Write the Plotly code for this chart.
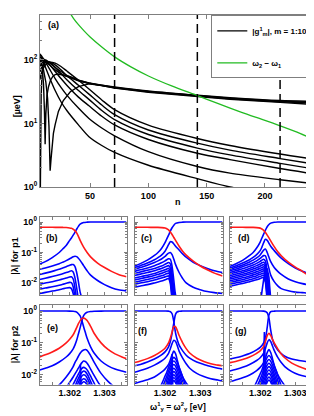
import plotly.graph_objects as go

# ---------------- panel (a) data ----------------
n_L = [7, 8, 10, 12, 15, 20, 25, 30, 40, 49, 60, 71, 100, 142, 170, 213, 241.5]
g_L1 = [50, 60, 75, 85, 92, 89, 79, 67, 48, 35, 23.5, 16.5, 9.4, 5.8, 4.5, 3.3, 2.75]
g_L2 = [65, 74, 86, 92, 93, 84, 70, 57, 40, 29, 19.5, 13.8, 7.9, 4.9, 3.8, 2.8, 2.3]
g_L3 = [80, 86, 94, 96, 92, 77, 61, 49, 33, 24, 16, 11.5, 6.7, 4.1, 3.2, 2.35, 1.93]
g_L4 = [95, 98, 100, 96, 86, 66, 51, 40, 26, 19, 13, 9.5, 5.6, 3.4, 2.7, 1.95, 1.61]
g_L5 = [110, 108, 100, 90, 73, 51, 37, 28, 17.5, 12, 8.5, 6.4, 3.6, 2.1, 1.65, 1.3, 1.13]
g_L6 = [120, 112, 92, 74, 54, 33, 22, 16, 9.5, 6.2, 4.5, 3.5, 2.2, 1.35, 1.0, 0.75, 0.62]
g_B1 = [125, 118, 105, 96, 84, 70, 61, 55, 47, 43, 40, 37.5, 32.5, 27.8, 25.5, 23, 22.3]

n_B2 = [7.3, 7.6, 8, 8.5, 9, 10, 12, 15, 20, 25, 30, 40, 49, 60, 71, 100, 142, 170, 213, 241.5]
g_B2 = [0.9, 12, 28, 48, 65, 88, 100, 92, 76, 65, 57, 48, 43.5, 40, 37, 32, 27.3, 25, 22.5, 21.5]

n_B3 = [7, 8, 9, 10, 10.8, 11.4, 12, 13, 14.3, 16, 18, 20, 23, 27, 33, 40, 49, 60, 71, 100, 142, 170, 213, 241.5]
g_B3 = [105, 95, 72, 42, 16, 4.7, 14, 28, 38, 48, 55, 59, 60, 58, 54, 48, 43, 39.5, 36.5, 31.5, 27, 24.5, 22, 21]

n_B4 = [7, 8, 10, 12, 13.5, 14.7, 15.7, 16.5, 17.1, 18.5, 20, 22.8, 27, 33, 40, 49, 60, 71, 100, 142, 170, 213, 241.5]
g_B4 = [100, 90, 70, 45, 25, 9, 1.8, 2.8, 4.2, 7, 9.6, 15.5, 23, 31.6, 38, 42, 39.5, 36, 31, 26.5, 24, 21.5, 20]

n_green = [33, 36, 40, 45, 50, 60, 71, 85, 100, 120, 142, 160, 180, 200, 213, 230, 241.5]
w_green = [540, 445, 360, 285, 230, 160, 112, 78, 56, 39, 27.5, 20.5, 15, 11.2, 9.2, 7.0, 5.6]

dashed_n = [71, 142, 213]
a_xticks = [50, 100, 150, 200]

# ---------------- p1 panels (b, c, d) ----------------
X_p1 = [1.30114, 1.3013, 1.3015, 1.3017, 1.3018, 1.3019, 1.3020, 1.30205, 1.3021, 1.30215,
        1.3022, 1.30225, 1.3023, 1.3024, 1.3025, 1.3026, 1.3028, 1.3030, 1.3032, 1.3034, 1.30363]

red_b = [0.67, 0.67, 0.67, 0.668, 0.665, 0.66, 0.64, 0.62, 0.58, 0.52, 0.44, 0.34, 0.25, 0.15, 0.1, 0.072, 0.045, 0.032, 0.024, 0.019, 0.016]
main_b = [0.042, 0.05, 0.068, 0.1, 0.13, 0.17, 0.25, 0.3, 0.37, 0.46, 0.58, 0.72, 0.85, 0.96, 0.99, 1, 1, 1, 1, 1, 1]
fins_b = [
    [0.028, 0.031, 0.036, 0.043, 0.048, 0.054, 0.062, 0.067, 0.072, 0.075, 0.073, 0.065, 0.055, 0.037, 0.025, 0.018, 0.012, 0.0088, 0.007, 0.006, 0.0055],
    [0.019, 0.021, 0.024, 0.028, 0.031, 0.034, 0.038, 0.04, 0.04, 0.035, 0.022, 0.011, 0.005, 0.002],
    [0.013, 0.0143, 0.0162, 0.0185, 0.02, 0.022, 0.024, 0.025, 0.023, 0.015, 0.007, 0.003, 0.002],
    [0.009, 0.0099, 0.011, 0.0125, 0.0134, 0.0145, 0.0157, 0.016, 0.0135, 0.007, 0.003, 0.002],
    [0.0062, 0.0068, 0.0075, 0.0084, 0.009, 0.0097, 0.0104, 0.0102, 0.0075, 0.0035, 0.002],
    [0.0045, 0.0049, 0.0054, 0.006, 0.0064, 0.0068, 0.007, 0.0065, 0.0045, 0.002],
]

red_c = [0.67, 0.67, 0.67, 0.668, 0.665, 0.655, 0.635, 0.6, 0.55, 0.47, 0.39, 0.31, 0.25, 0.16, 0.11, 0.082, 0.052, 0.036, 0.027, 0.021, 0.017]
main_c = [0.036, 0.043, 0.056, 0.08, 0.1, 0.135, 0.21, 0.28, 0.37, 0.5, 0.65, 0.79, 0.9, 0.97, 0.99, 1, 1, 1, 1, 1, 1]
fins_c = [
    [0.032, 0.037, 0.045, 0.058, 0.068, 0.082, 0.11, 0.14, 0.18, 0.225, 0.22, 0.19, 0.16, 0.12, 0.09, 0.07, 0.048, 0.037, 0.03, 0.025, 0.022],
    [0.028, 0.032, 0.038, 0.047, 0.053, 0.061, 0.074, 0.085, 0.095, 0.1, 0.085, 0.06, 0.04, 0.022, 0.014, 0.01, 0.0072, 0.006, 0.0052, 0.0048, 0.0045],
    [0.024, 0.027, 0.031, 0.037, 0.041, 0.046, 0.053, 0.058, 0.062, 0.06, 0.035, 0.012, 0.004, 0.002],
    [0.0205, 0.023, 0.026, 0.030, 0.033, 0.036, 0.041, 0.044, 0.047, 0.042, 0.02, 0.006, 0.002],
    [0.0175, 0.0195, 0.022, 0.025, 0.0275, 0.03, 0.0335, 0.0355, 0.037, 0.031, 0.013, 0.004, 0.002],
    [0.0145, 0.016, 0.018, 0.0205, 0.0225, 0.0245, 0.0272, 0.0288, 0.03, 0.024, 0.009, 0.003, 0.002],
    [0.0125, 0.0138, 0.0155, 0.0176, 0.019, 0.0206, 0.0228, 0.024, 0.025, 0.019, 0.007, 0.002],
    [0.0105, 0.0116, 0.013, 0.0148, 0.016, 0.0173, 0.019, 0.02, 0.021, 0.015, 0.005, 0.002],
    [0.009, 0.0099, 0.011, 0.0125, 0.0134, 0.0145, 0.0158, 0.0165, 0.017, 0.012, 0.004, 0.002],
    [0.0072, 0.0079, 0.0088, 0.01, 0.0107, 0.0115, 0.0127, 0.0134, 0.014, 0.0095, 0.003, 0.002],
]

red_d = [0.67, 0.67, 0.67, 0.668, 0.665, 0.655, 0.63, 0.59, 0.53, 0.45, 0.37, 0.3, 0.24, 0.155, 0.105, 0.078, 0.048, 0.033, 0.024, 0.017, 0.013]
main_d = [0.035, 0.042, 0.055, 0.08, 0.1, 0.14, 0.22, 0.3, 0.4, 0.54, 0.7, 0.83, 0.92, 0.98, 1, 1, 1, 1, 1, 1, 1]
fins_d = [
    [0.031, 0.036, 0.045, 0.058, 0.069, 0.085, 0.115, 0.15, 0.21, 0.27, 0.25, 0.2, 0.16, 0.115, 0.085, 0.065, 0.043, 0.031, 0.024, 0.02, 0.017],
    [0.028, 0.032, 0.039, 0.049, 0.056, 0.066, 0.083, 0.1, 0.12, 0.13, 0.1, 0.07, 0.05, 0.032, 0.024, 0.019, 0.0135, 0.011, 0.0095, 0.0086, 0.008],
    [0.025, 0.028, 0.034, 0.041, 0.046, 0.053, 0.064, 0.072, 0.079, 0.078, 0.05, 0.03, 0.018, 0.011, 0.008, 0.0065, 0.0055, 0.005, 0.0048, 0.0046, 0.0045],
    [0.022, 0.025, 0.029, 0.035, 0.039, 0.044, 0.051, 0.056, 0.06, 0.052, 0.022, 0.007, 0.002],
    [0.0195, 0.022, 0.025, 0.03, 0.033, 0.037, 0.042, 0.046, 0.048, 0.04, 0.016, 0.005, 0.002],
    [0.0172, 0.0192, 0.022, 0.026, 0.0285, 0.0315, 0.0355, 0.038, 0.04, 0.032, 0.012, 0.0035, 0.002],
    [0.0152, 0.0169, 0.0193, 0.0225, 0.0245, 0.027, 0.0303, 0.0323, 0.034, 0.026, 0.009, 0.0025],
    [0.0134, 0.0148, 0.0168, 0.0195, 0.0212, 0.0232, 0.026, 0.0276, 0.029, 0.021, 0.007, 0.002],
    [0.0118, 0.013, 0.0147, 0.017, 0.0184, 0.0201, 0.0224, 0.0238, 0.025, 0.018, 0.0058, 0.002],
    [0.0103, 0.0114, 0.0128, 0.0147, 0.0159, 0.0173, 0.0192, 0.0203, 0.021, 0.015, 0.0047, 0.002],
    [0.009, 0.0099, 0.0111, 0.0127, 0.0137, 0.0148, 0.0164, 0.0173, 0.018, 0.0125, 0.0038, 0.002],
    [0.0078, 0.0086, 0.0096, 0.011, 0.0118, 0.0127, 0.014, 0.0147, 0.015, 0.0102, 0.003, 0.002],
]
rise_d_x = [1.3020, 1.30205, 1.3021, 1.30215, 1.3022, 1.30225, 1.3023]
rise_d_v = [0.002, 0.006, 0.013, 0.022, 0.03, 0.015, 0.003]

# ---------------- p2 panels (e, f, g) ----------------
X_p2 = [1.30114, 1.3013, 1.3015, 1.3017, 1.3019, 1.3020, 1.3021, 1.30215, 1.3022, 1.30225, 1.3023,
        1.30235, 1.3024, 1.30245, 1.3025, 1.3026, 1.3027, 1.3029, 1.3031, 1.3033, 1.3035, 1.30363]

A_e = [1, 1, 1, 1, 1, 0.995, 0.98, 0.96, 0.92, 0.82, 0.7, 0.5, 0.32, 0.21, 0.14, 0.075, 0.048, 0.027, 0.019, 0.015, 0.013, 0.012]
B_e = [0.014, 0.016, 0.019, 0.025, 0.036, 0.046, 0.065, 0.085, 0.12, 0.19, 0.3, 0.5, 0.72, 0.84, 0.91, 0.96, 0.98, 0.995, 1, 1, 1, 1]
red_e = [0.036, 0.042, 0.052, 0.068, 0.1, 0.13, 0.18, 0.23, 0.3, 0.4, 0.5, 0.58, 0.6, 0.57, 0.5, 0.33, 0.2, 0.1, 0.062, 0.045, 0.036, 0.032]
hill1_e = [0.002, 0.0025, 0.0033, 0.0048, 0.0085, 0.012, 0.018, 0.024, 0.03, 0.038, 0.047, 0.055, 0.06, 0.062, 0.058, 0.04, 0.025, 0.011, 0.0062, 0.004, 0.0028, 0.002]
X_e = [1.3017, 1.3018, 1.3019, 1.3020, 1.3021, 1.3022, 1.30225, 1.3023, 1.30235, 1.3024,
       1.30245, 1.3025, 1.30255, 1.3026, 1.3027, 1.3028, 1.3029, 1.3030, 1.3031]
hills_e = [
    [0.002, 0.0025, 0.004, 0.0058, 0.0085, 0.013, 0.016, 0.02, 0.024, 0.027, 0.026, 0.023, 0.019, 0.015, 0.0095, 0.0062, 0.0042, 0.0028, 0.002],
    [0.002, 0.002, 0.002, 0.0032, 0.005, 0.0082, 0.0105, 0.0132, 0.0158, 0.017, 0.0162, 0.0142, 0.0115, 0.009, 0.0055, 0.0032, 0.002, 0.002, 0.002],
    [0.002, 0.002, 0.002, 0.002, 0.0032, 0.0058, 0.0077, 0.0098, 0.0118, 0.013, 0.0124, 0.0105, 0.0083, 0.0062, 0.0035, 0.002, 0.002, 0.002, 0.002],
    [0.002, 0.002, 0.002, 0.002, 0.0022, 0.0042, 0.0058, 0.0074, 0.0091, 0.01, 0.0095, 0.008, 0.0062, 0.0045, 0.0024, 0.002, 0.002, 0.002, 0.002],
    [0.002, 0.002, 0.002, 0.002, 0.002, 0.003, 0.0042, 0.0055, 0.0068, 0.0075, 0.0071, 0.0059, 0.0045, 0.0032, 0.002, 0.002, 0.002, 0.002, 0.002],
    [0.002, 0.002, 0.002, 0.002, 0.002, 0.0023, 0.0033, 0.0044, 0.0054, 0.006, 0.0057, 0.0047, 0.0035, 0.0024, 0.002, 0.002, 0.002, 0.002, 0.002],
]
spike_e_x = [1.30229, 1.3023, 1.30231, 1.30232, 1.30233]
spike_e_v = [0.002, 0.008, 0.021, 0.008, 0.002]

A_f = [1, 1, 1, 1, 1, 1, 0.99, 0.96, 0.82, 0.45, 0.2, 0.12, 0.085, 0.068, 0.056, 0.041, 0.033, 0.025, 0.021, 0.018, 0.016, 0.015]
B_f = [0.019, 0.021, 0.025, 0.031, 0.042, 0.052, 0.075, 0.11, 0.2, 0.42, 0.8, 0.95, 0.98, 0.99, 1, 1, 1, 1, 1, 1, 1, 1]
red_f = [0.024, 0.027, 0.032, 0.04, 0.055, 0.068, 0.1, 0.14, 0.22, 0.33, 0.32, 0.24, 0.17, 0.13, 0.1, 0.066, 0.048, 0.033, 0.026, 0.022, 0.02, 0.019]
hill1_f = [0.012, 0.0135, 0.016, 0.02, 0.027, 0.033, 0.047, 0.065, 0.095, 0.12, 0.11, 0.08, 0.055, 0.042, 0.033, 0.022, 0.016, 0.011, 0.0088, 0.0075, 0.0068, 0.0063]
hill2_f = [0.0053, 0.006, 0.007, 0.0085, 0.012, 0.015, 0.021, 0.029, 0.042, 0.055, 0.045, 0.028, 0.017, 0.012, 0.0085, 0.0055, 0.004, 0.0025, 0.002]

X_n = [1.3018, 1.3019, 1.3020, 1.30205, 1.3021, 1.30215, 1.3022, 1.30225, 1.3023, 1.30235,
       1.3024, 1.30245, 1.3025, 1.3026, 1.3027, 1.3028]
hills_f = [
    [0.003, 0.005, 0.009, 0.012, 0.017, 0.023, 0.03, 0.035, 0.031, 0.024, 0.017, 0.012, 0.0085, 0.004, 0.002, 0.002],
    [0.002, 0.0035, 0.0065, 0.009, 0.013, 0.018, 0.024, 0.027, 0.024, 0.018, 0.013, 0.009, 0.006, 0.0025, 0.002, 0.002],
    [0.002, 0.0025, 0.0048, 0.0068, 0.0098, 0.014, 0.0185, 0.021, 0.0185, 0.014, 0.0097, 0.0066, 0.0044, 0.002, 0.002, 0.002],
    [0.002, 0.002, 0.0035, 0.005, 0.0073, 0.0105, 0.014, 0.016, 0.014, 0.0105, 0.0072, 0.0048, 0.0031, 0.002, 0.002, 0.002],
    [0.002, 0.002, 0.0026, 0.0038, 0.0056, 0.0081, 0.011, 0.0125, 0.011, 0.0081, 0.0055, 0.0036, 0.0023, 0.002, 0.002, 0.002],
    [0.002, 0.002, 0.002, 0.003, 0.0044, 0.0064, 0.0087, 0.01, 0.0087, 0.0064, 0.0043, 0.0028, 0.002, 0.002, 0.002, 0.002],
    [0.002, 0.002, 0.002, 0.0023, 0.0034, 0.005, 0.007, 0.008, 0.007, 0.005, 0.0033, 0.0021, 0.002, 0.002, 0.002, 0.002],
    [0.002, 0.002, 0.002, 0.002, 0.0027, 0.004, 0.0056, 0.0065, 0.0056, 0.004, 0.0026, 0.002, 0.002, 0.002, 0.002, 0.002],
]
spike_f_x = [1.30218, 1.30219, 1.3022, 1.30221, 1.30222]
spike_f_v = [0.004, 0.015, 0.045, 0.015, 0.004]

A_g = [1, 1, 1, 1, 1, 1, 0.995, 0.97, 0.88, 0.6, 0.25, 0.13, 0.09, 0.072, 0.06, 0.046, 0.038, 0.031, 0.028, 0.026, 0.025, 0.024]
B_g = [0.031, 0.034, 0.039, 0.046, 0.06, 0.072, 0.1, 0.14, 0.3, 0.75, 0.95, 0.98, 0.99, 1, 1, 1, 1, 1, 1, 1, 1, 1]
red_g = [0.024, 0.026, 0.03, 0.036, 0.047, 0.056, 0.078, 0.11, 0.17, 0.2, 0.17, 0.13, 0.1, 0.08, 0.065, 0.045, 0.034, 0.023, 0.018, 0.015, 0.014, 0.013]
hill1_g = [0.013, 0.0145, 0.017, 0.021, 0.028, 0.034, 0.048, 0.066, 0.1, 0.126, 0.11, 0.08, 0.058, 0.044, 0.035, 0.024, 0.018, 0.0125, 0.01, 0.0088, 0.008, 0.0075]
hill2_g = [0.006, 0.0068, 0.008, 0.0098, 0.0135, 0.017, 0.024, 0.033, 0.05, 0.062, 0.05, 0.032, 0.02, 0.014, 0.01, 0.0065, 0.0046, 0.003, 0.002]
hills_g = [
    [0.0035, 0.006, 0.0105, 0.014, 0.02, 0.027, 0.035, 0.04, 0.035, 0.027, 0.019, 0.0135, 0.0095, 0.0045, 0.0022, 0.002],
    [0.0022, 0.004, 0.0072, 0.01, 0.0145, 0.02, 0.0265, 0.03, 0.0265, 0.02, 0.0143, 0.01, 0.0067, 0.0028, 0.002, 0.002],
    [0.002, 0.0027, 0.0053, 0.0075, 0.0108, 0.0153, 0.0203, 0.023, 0.0203, 0.0153, 0.0106, 0.0072, 0.0048, 0.002, 0.002, 0.002],
    [0.002, 0.002, 0.0039, 0.0056, 0.0082, 0.0118, 0.0158, 0.018, 0.0158, 0.0118, 0.0081, 0.0054, 0.0035, 0.002, 0.002, 0.002],
    [0.002, 0.002, 0.0029, 0.0043, 0.0063, 0.009, 0.0123, 0.014, 0.0123, 0.009, 0.0062, 0.004, 0.0026, 0.002, 0.002, 0.002],
    [0.002, 0.002, 0.0022, 0.0033, 0.0048, 0.007, 0.0096, 0.011, 0.0096, 0.007, 0.0047, 0.0031, 0.002, 0.002, 0.002, 0.002],
    [0.002, 0.002, 0.002, 0.0024, 0.0036, 0.0053, 0.0074, 0.0085, 0.0074, 0.0053, 0.0035, 0.0022, 0.002, 0.002, 0.002, 0.002],
    [0.002, 0.002, 0.002, 0.002, 0.0028, 0.0042, 0.0059, 0.0068, 0.0059, 0.0042, 0.0027, 0.002, 0.002, 0.002, 0.002, 0.002],
]
spike_g_x = [1.30209, 1.30211, 1.30212, 1.30213, 1.30215]
spike_g_v = [0.01, 0.08, 0.22, 0.08, 0.01]

lam_ticks = [0.01, 0.1, 1]
lam_ticktext = ["10<sup>-2</sup>", "10<sup>-1</sup>", "10<sup>0</sup>"]
w_ticks = [1.3015, 1.302, 1.3025, 1.303, 1.3035]
w_ticktext = [" ", "1.302", " ", "1.303", " "]

# ---------------- styling ----------------
FONT = "Liberation Sans"
FRAME = "#7f7f7f"
BLUE = "#0000ff"
RED = "#ff1a1a"
BLACK = "#000000"
GREEN = "#22bb22"
TF = dict(family=FONT, size=9, color="black", weight="bold")

fig = go.Figure()


def line(x, y, color, xa, ya, width=1.6, shape="spline", name=None, legend=False, group=None):
    fig.add_trace(go.Scatter(
        x=x, y=y, mode="lines", xaxis=xa, yaxis=ya,
        line=dict(color=color, width=width, shape=shape, smoothing=0.8 if shape == "spline" else None),
        name=name, showlegend=legend, legendgroup=group, hoverinfo="skip"))


# panel (a)
first = True
for yv in [g_L1, g_L2, g_L3, g_L4, g_L5, g_L6, g_B1]:
    line(n_L, yv, BLACK, "x", "y", width=1.4,
         name="|g<sup>1</sup><sub>m</sub>|, m = 1:10", legend=first, group="g")
    first = False
line(n_B2, g_B2, BLACK, "x", "y", width=1.4, shape="linear", group="g")
line(n_B3, g_B3, BLACK, "x", "y", width=1.4, shape="linear", group="g")
line(n_B4, g_B4, BLACK, "x", "y", width=1.4, shape="linear", group="g")
line(n_green, w_green, GREEN, "x", "y", width=1.3,
     name="ω<sub>2</sub> − ω<sub>1</sub>", legend=True, group="w")

for nv in dashed_n:
    fig.add_vline(x=nv, xref="x", line=dict(color=BLACK, width=1.5, dash="9px,5px"))

# p1 panels
for (xa, ya, red, main, fins) in [("x2", "y2", red_b, main_b, fins_b),
                                  ("x3", "y3", red_c, main_c, fins_c),
                                  ("x4", "y4", red_d, main_d, fins_d)]:
    for f in fins:
        line(X_p1[:len(f)], f, BLUE, xa, ya)
    line(X_p1, main, BLUE, xa, ya)
    if xa == "x4":
        line(rise_d_x, rise_d_v, BLUE, xa, ya, shape="linear")
    line(X_p1, red, RED, xa, ya)

# p2 panels
for (xa, ya, A, B, red, h1, h2, hx, hills, sx, sv) in [
        ("x5", "y5", A_e, B_e, red_e, hill1_e, None, X_e, hills_e, spike_e_x, spike_e_v),
        ("x6", "y6", A_f, B_f, red_f, hill1_f, hill2_f, X_n, hills_f, spike_f_x, spike_f_v),
        ("x7", "y7", A_g, B_g, red_g, hill1_g, hill2_g, X_n, hills_g, spike_g_x, spike_g_v)]:
    for h in hills:
        line(hx, h, BLUE, xa, ya)
    line(sx, sv, BLUE, xa, ya, shape="linear")
    if h2 is not None:
        line(X_p2[:len(h2)], h2, BLUE, xa, ya)
    line(X_p2, h1, BLUE, xa, ya)
    line(X_p2, A, BLUE, xa, ya)
    line(X_p2, B, BLUE, xa, ya)
    line(X_p2, red, RED, xa, ya)

W, H = 314, 416


def px(x0, x1):
    return [x0 / W, x1 / W]


def py(top, bottom):
    return [1 - bottom / H, 1 - top / H]


base = dict(showline=True, linecolor=FRAME, linewidth=1, mirror="ticks", ticks="inside",
            tickcolor=FRAME, ticklen=3, showgrid=False, zeroline=False, tickfont=TF)

minor_a = [v * d for d in [1, 10, 100] for v in range(2, 10)]
minor_l = [v * d for d in [0.001, 0.01, 0.1] for v in range(2, 10)]

layout = dict(
    width=W, height=H, margin=dict(l=0, r=0, t=0, b=0),
    paper_bgcolor="white", plot_bgcolor="white",
    font=dict(family=FONT, size=9, color="black", weight="bold"),
    xaxis=dict(base, domain=px(32, 305.3), range=[7, 241.5], tickvals=a_xticks, ticklen=4, anchor="y"),
    yaxis=dict(base, domain=py(5, 180), type="log", range=[0, 2.71], tickvals=[1, 10, 100],
               ticktext=["10<sup>0</sup>", "10<sup>1</sup>", "10<sup>2</sup>"], ticklen=4, anchor="x",
               minor=dict(tickvals=minor_a, ticks="inside", ticklen=2, tickcolor=FRAME)),
    legend=dict(x=305.3 / W, xanchor="right", y=1 - 5.5 / H, yanchor="top", bgcolor="white",
                bordercolor=FRAME, borderwidth=1, font=dict(family=FONT, size=8, weight="bold"),
                tracegroupgap=13, itemwidth=30),
    showlegend=True,
)

cols = [(31.7, 118.5), (126.7, 214.5), (221.9, 309.5)]
rows = [((210.7, 290), [-2.4, 0.16]), ((300.5, 381), [-2.31, 0.175])]
k = 2
for r, (yd, yr) in enumerate(rows):
    for c, (x0, x1) in enumerate(cols):
        layout[f"xaxis{k}"] = dict(base, domain=px(x0, x1), range=[1.30114, 1.30363], tickvals=w_ticks,
                                   ticktext=w_ticktext, showticklabels=(r == 1), anchor=f"y{k}",
                                   ticklabelstandoff=0)
        layout[f"yaxis{k}"] = dict(base, domain=py(*yd), type="log", range=yr, tickvals=lam_ticks,
                                   ticktext=lam_ticktext, showticklabels=(c == 0), anchor=f"x{k}",
                                   minor=dict(tickvals=minor_l, ticks="inside", ticklen=2, tickcolor=FRAME))
        k += 1

fig.update_layout(**layout)

ann = [
    ("(a)", 45, 15, 0), ("(b)", 44, 232, 0), ("(c)", 138, 232, 0), ("(d)", 236, 232, 0),
    ("(e)", 44, 323, 0), ("(f)", 134, 326, 0), ("(g)", 233, 326, 0),
    ("[µeV]", 9, 98, -90), ("n", 170, 195, 0),
    ("|λ| for p1", 7, 250, -90), ("|λ| for p2", 7, 340, -90),
]
for text, x, y, ang in ann:
    fig.add_annotation(text=text, x=x / W, y=1 - y / H, xref="paper", yref="paper",
                       showarrow=False, textangle=ang, xanchor="center", yanchor="middle",
                       font=dict(family=FONT, size=9, color="black", weight="bold"))

fig.add_annotation(text="ω<sup>1</sup><sub>y</sub> = ω<sup>2</sup><sub>y</sub> [eV]",
                   x=170 / W, y=1 - 411 / H, xref="paper", yref="paper", showarrow=False,
                   xanchor="center", yanchor="bottom",
                   font=dict(family=FONT, size=8.5, color="black", weight="bold"))

fig.write_html("out.html")
